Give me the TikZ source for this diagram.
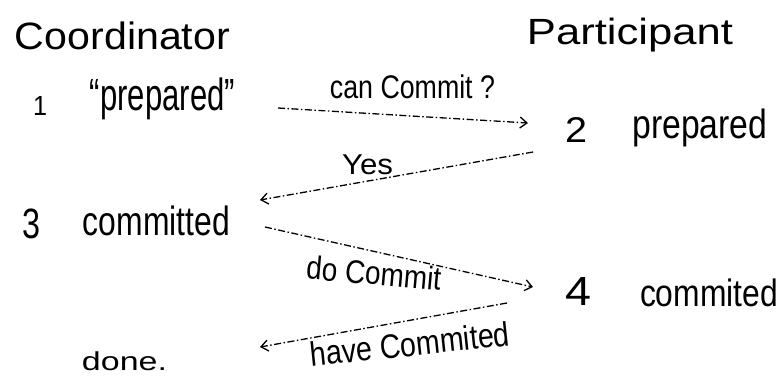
\documentclass[tikz,border=0pt]{standalone}
\usepackage{fontspec}
\setmainfont{Liberation Sans}
\usepackage{graphicx}
\usetikzlibrary{arrows.meta}
\newcommand{\fitbox}[3]{\resizebox*{#1pt}{#2pt}{#3}}
\begin{document}
\begin{tikzpicture}[x=1pt,y=-1pt,
  lbl/.style={inner sep=0pt,outer sep=0pt,anchor=center},
  msg/.style={line width=1.3pt,dash pattern=on 7pt off 2.5pt on 1.5pt off 2.5pt,
    -{Straight Barb[length=7pt,width=11pt,line width=1.3pt]}}]
\useasboundingbox (0,0) rectangle (781,375);
% headers
\node[lbl] (coord) at (122.5,36) {\fitbox{215}{28}{Coordinator}};
\node[lbl] (part) at (630,35.5) {\fitbox{206}{34}{Participant}};
% coordinator states
\node[lbl] (n1) at (40,106) {\fitbox{14}{19}{1}};
\node[lbl] (s1) at (162.5,99) {\fitbox{145}{42}{``prepared''}};
\node[lbl] (n3) at (32,224) {\fitbox{18}{30}{3}};
\node[lbl] (s3) at (156.5,221) {\fitbox{147}{30}{committed}};
\node[lbl] (done) at (124.5,361) {\fitbox{85}{19}{done.}};
% participant states
\node[lbl] (n2) at (576,129.5) {\fitbox{22}{25}{2}};
\node[lbl] (s2) at (700,128) {\fitbox{135}{38}{prepared}};
\node[lbl] (n4) at (578.5,291) {\fitbox{26}{28}{4}};
\node[lbl] (s4) at (709,293) {\fitbox{138}{28}{commited}};
% message end points
\coordinate (a1s) at (278,108);
\coordinate (a1e) at (528,123);
\coordinate (a2s) at (533,152);
\coordinate (a2e) at (260,200);
\coordinate (a3s) at (265,227);
\coordinate (a3e) at (533,287);
\coordinate (a4s) at (507,303);
\coordinate (a4e) at (260,347);
% messages
\draw[msg] (a1s) -- (a1e);
\draw[msg] (a2s) -- (a2e);
\draw[msg] (a3s) -- (a3e);
\draw[msg] (a4s) -- (a4e);
% message labels
\node[lbl] (l1) at (412.5,87) {\fitbox{165}{24}{can Commit ?}};
\node[lbl] (l2) at (367.5,165) {\fitbox{51}{20}{Yes}};
\node[lbl,rotate=-5] (l3) at (374,273) {\fitbox{135}{24}{do Commit}};
\node[lbl,rotate=6] (l4) at (410,344) {\fitbox{200}{25}{have Commited}};
\end{tikzpicture}
\end{document}
